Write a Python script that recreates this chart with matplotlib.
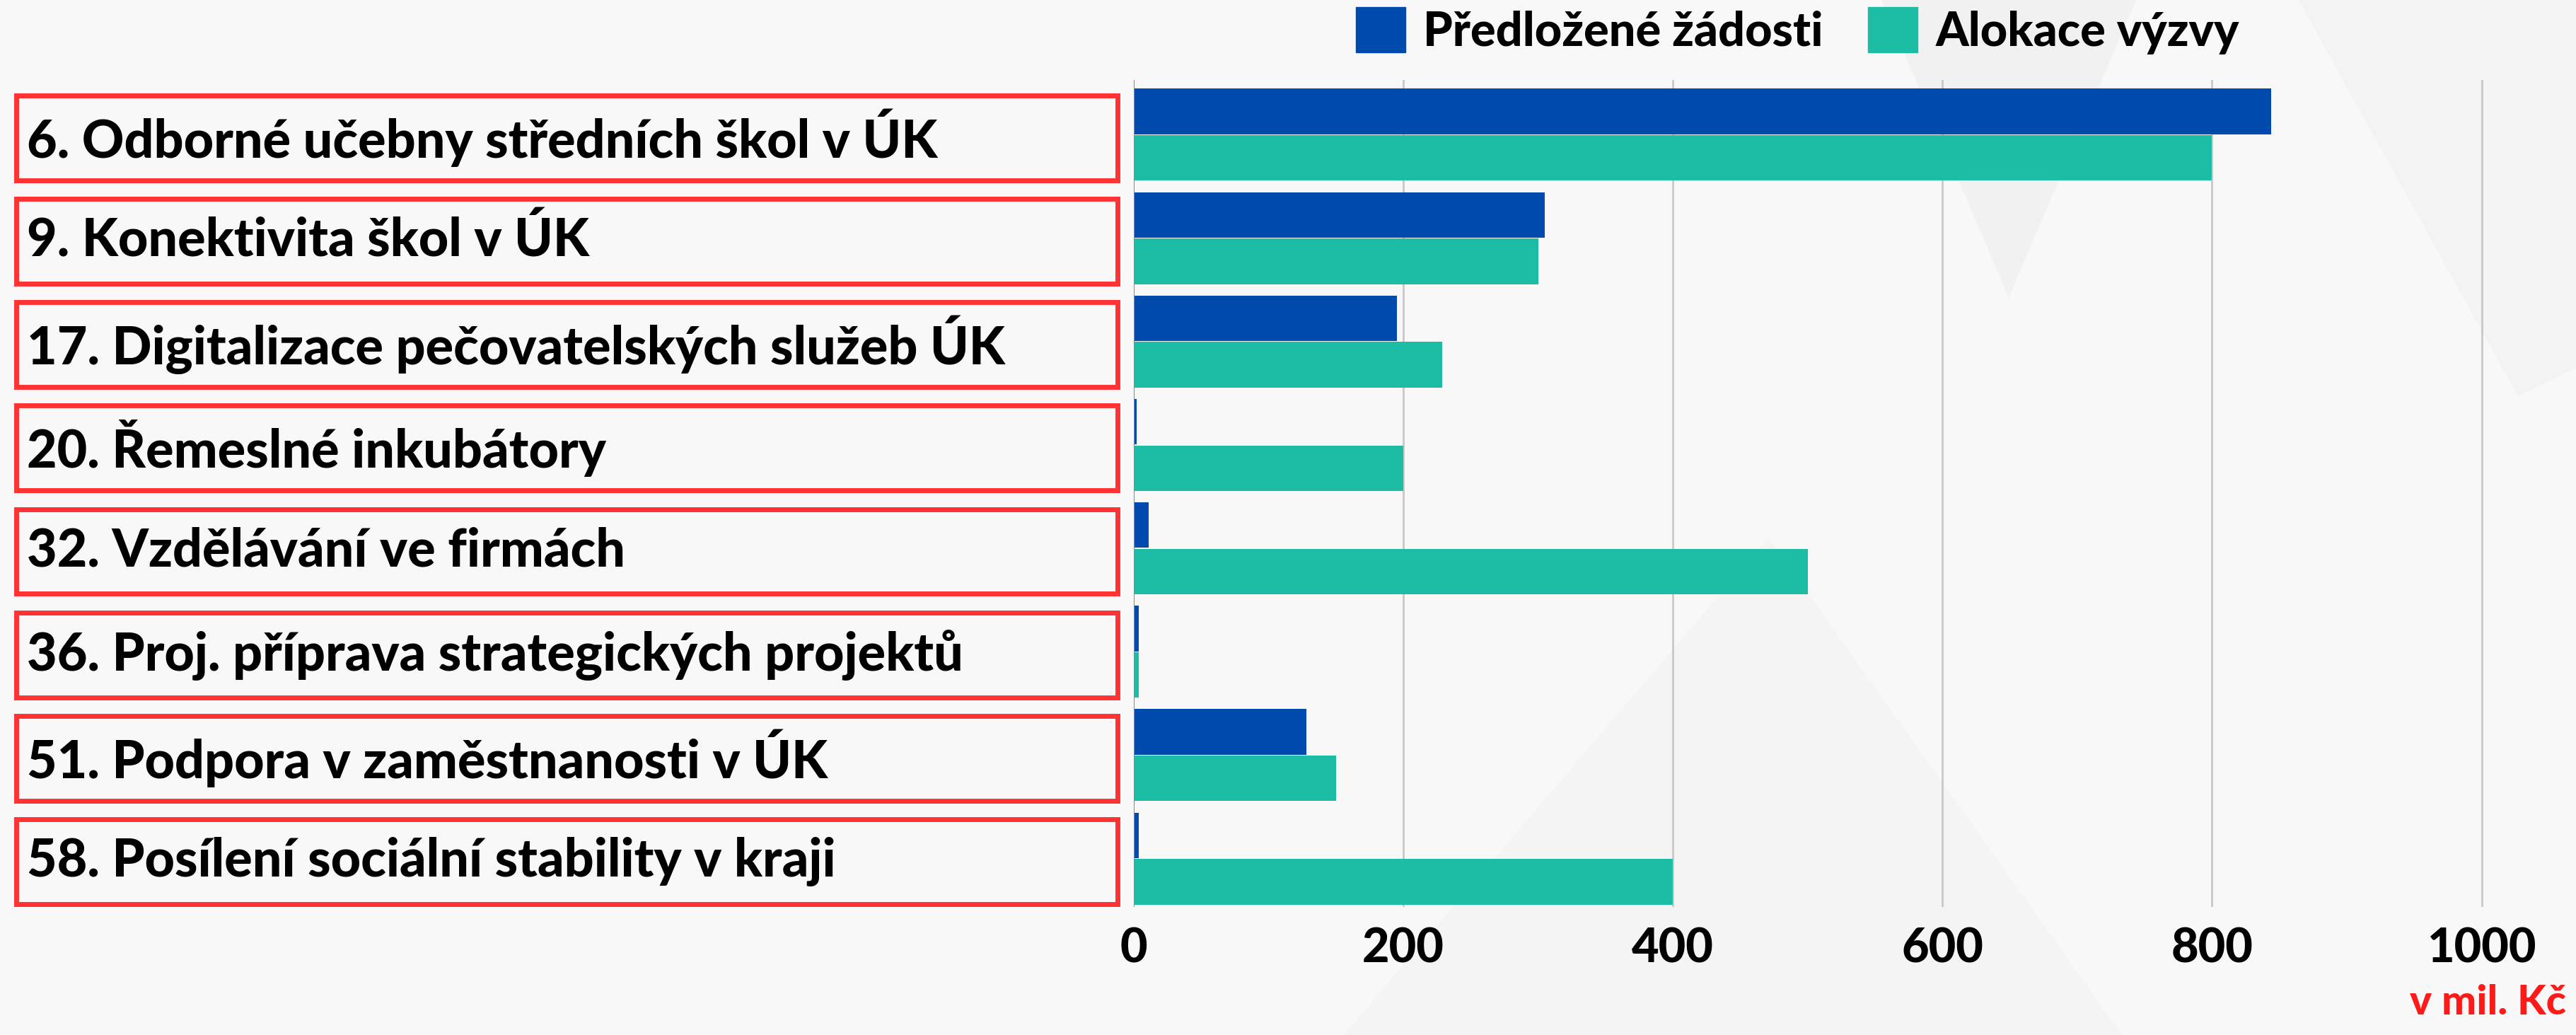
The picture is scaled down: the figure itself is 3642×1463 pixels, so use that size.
import matplotlib
matplotlib.use("Agg")
import matplotlib.pyplot as plt  # noqa: E402
import numpy as np  # noqa: E402
from matplotlib.patches import Rectangle, Polygon, Patch  # noqa: E402
from matplotlib.transforms import blended_transform_factory  # noqa: E402

# ---- data ------------------------------------------------------------------ #
categories = [
    "6. Odborné učebny středních škol v ÚK",
    "9. Konektivita škol v ÚK",
    "17. Digitalizace pečovatelských služeb ÚK",
    "20. Řemeslné inkubátory",
    "32. Vzdělávání ve firmách",
    "36. Proj. příprava strategických projektů",
    "51. Podpora v zaměstnanosti v ÚK",
    "58. Posílení sociální stability v kraji",
]
submitted = [844, 305, 195, 2, 11, 3.5, 128, 3.5]     # Předložené žádosti
allocation = [800, 300, 229, 200, 500, 3.5, 150, 400]  # Alokace výzvy
xticks = [0, 200, 400, 600, 800, 1000]
legend_labels = ["Předložené žádosti", "Alokace výzvy"]
unit_label = "v mil. Kč"

BLUE, TEAL, RED, BG = "#004AAD", "#1DBCA5", "#FF3333", "#F8F8F8"
FONT = ["Lato", "DejaVu Sans"]
W, H = 3642, 1463

fig = plt.figure(figsize=(W / 100, H / 100), dpi=100)
fig.patch.set_facecolor(BG)

# faint background triangles (behind everything)
for pts, c in [
    ([(2660, 0), (3020, 0), (2840, 420)], "#F1F1F1"),
    ([(3250, 0), (3642, 0), (3642, 520), (3560, 560)], "#F3F3F3"),
    ([(1900, 1463), (2500, 760), (3000, 1463)], "#F4F4F4"),
]:
    fig.patches.append(Polygon([(x / W, 1 - y / H) for x, y in pts],
                               closed=True, transform=fig.transFigure,
                               fc=c, ec="none", zorder=-5))

# ---- bars ------------------------------------------------------------------ #
ax = fig.add_axes([1603 / W, 0.1235, 1 - 1603 / W, 0.7993])
ax.set_facecolor("none")
y = np.arange(len(categories))
ax.barh(y - 0.225, submitted, height=0.44, color=BLUE, zorder=3)
ax.barh(y + 0.225, allocation, height=0.44, color=TEAL, zorder=3)
ax.set_xlim(0, 1070)
ax.set_ylim(7.47, -0.53)

ax.set_xticks(xticks)
ax.set_xticklabels([str(t) for t in xticks], fontfamily=FONT,
                   fontweight="black", fontsize=48)
ax.tick_params(axis="x", length=0, pad=20)
ax.set_yticks([])
for s in ax.spines.values():
    s.set_visible(False)
ax.axvline(0, color="#8A8A8A", lw=1.5, zorder=4)
for t in xticks[1:]:
    ax.axvline(t, color="#C8C8C8", lw=2, zorder=1)

# ---- category labels in red boxes ------------------------------------------ #
trans = blended_transform_factory(fig.transFigure, ax.transData)
for i, name in enumerate(categories):
    ax.add_patch(Rectangle((23 / W, i + 0.03 - 0.41), (1580 - 23) / W, 0.82,
                           transform=trans, fill=False, ec=RED, lw=5,
                           clip_on=False, zorder=5))
    ax.text(38 / W, i + 0.03, name, transform=trans, ha="left", va="center",
            fontfamily=FONT, fontweight="black", fontsize=53, clip_on=False)

# ---- legend & unit ------------------------------------------------------------ #
handles = [Patch(color=BLUE), Patch(color=TEAL)]
fig.legend(handles, legend_labels, loc="upper left",
           bbox_to_anchor=(1917 / W, 1 - 10 / H), ncol=2, frameon=False,
           borderpad=0, borderaxespad=0, handlelength=1.05, handleheight=1.1,
           handletextpad=0.38, columnspacing=0.95,
           prop={"family": FONT, "weight": "black", "size": 48})

fig.text(3628 / W, 1 - 1417 / H, unit_label, ha="right", va="center",
         color="#FF1A1A", fontfamily=FONT, fontweight="black", fontsize=42)

fig.savefig("out.png", dpi=100, facecolor=fig.get_facecolor())
